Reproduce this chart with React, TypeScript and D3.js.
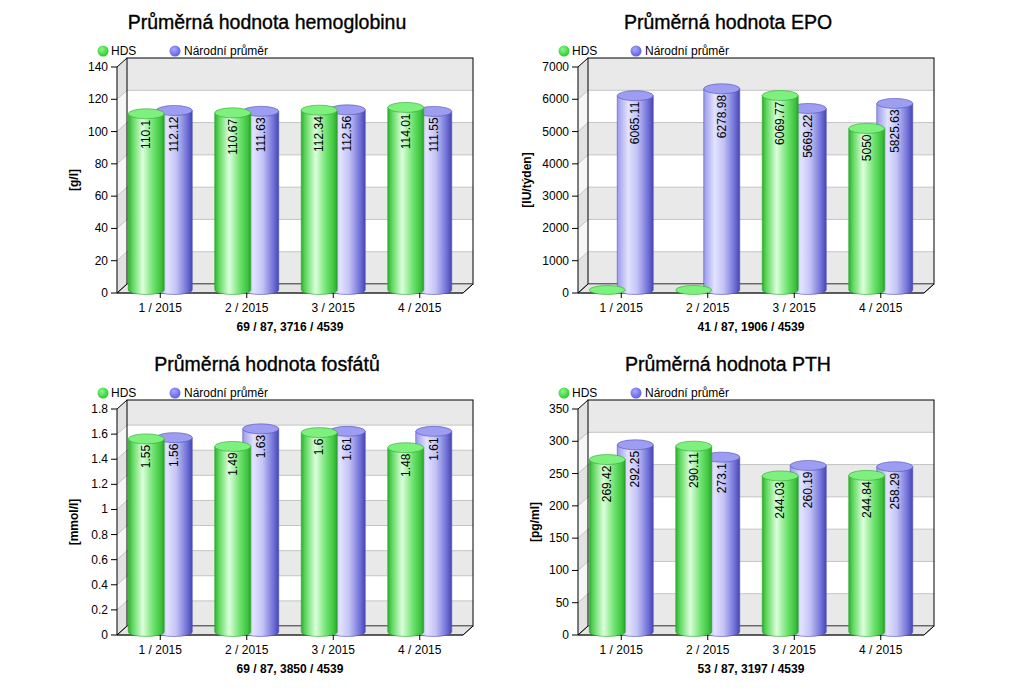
import React from "react";
import * as d3 from "d3";

const categories = ["1 / 2015", "2 / 2015", "3 / 2015", "4 / 2015"];
const seriesNames = ["HDS", "Národní průměr"];

const hbHds = [110.1, 110.67, 112.34, 114.01];
const hbNat = [112.12, 111.63, 112.56, 111.55];
const hbTicks = [0, 20, 40, 60, 80, 100, 120, 140];

const epoHds = [0, 0, 6069.77, 5050];
const epoNat = [6065.11, 6278.98, 5669.22, 5825.63];
const epoTicks = [0, 1000, 2000, 3000, 4000, 5000, 6000, 7000];

const phHds = [1.55, 1.49, 1.6, 1.48];
const phNat = [1.56, 1.63, 1.61, 1.61];
const phTicks = [0, 0.2, 0.4, 0.6, 0.8, 1, 1.2, 1.4, 1.6, 1.8];

const pthHds = [269.42, 290.11, 244.03, 244.84];
const pthNat = [292.25, 273.1, 260.19, 258.29];
const pthTicks = [0, 50, 100, 150, 200, 250, 300, 350];

const FONT = "'Liberation Sans', Arial, sans-serif";
const W = 346;
const H = 226;
const DX = 10;
const DY = -9;

type ChartProps = {
  left: number;
  top: number;
  title: string;
  unit: string;
  footer: string;
  hds: number[];
  nat: number[];
  ticks: number[];
  unitOffset: number;
};

function Cylinder({ cx, r, topY, botY, body, cap, stroke }: any) {
  const ry = 4.5;
  if (botY - topY < 1) {
    return <ellipse cx={cx} cy={botY} rx={r} ry={ry} fill={cap} stroke={stroke} strokeWidth={0.6} />;
  }
  const d = `M${cx - r},${topY} L${cx - r},${botY} A${r},${ry} 0 0 0 ${cx + r},${botY} L${cx + r},${topY} Z`;
  return (
    <g>
      <path d={d} fill={body} stroke={stroke} strokeWidth={0.6} />
      <ellipse cx={cx} cy={topY} rx={r} ry={ry + 0.5} fill={cap} stroke={stroke} strokeWidth={0.6} />
    </g>
  );
}

function Chart({ left, top, title, unit, footer, hds, nat, ticks, unitOffset }: ChartProps) {
  const L = left;
  const R = left + W;
  const T = top;
  const B = top + H;
  const max = ticks[ticks.length - 1];
  const y = d3.scaleLinear().domain([0, max]).range([B, T]);
  const x = d3.scaleBand().domain(categories).range([L, R]);
  const bw = x.bandwidth();
  const off = bw * 0.162;
  const r = 18;
  const bands = ticks.slice(0, -1).map((t, i) => ({ v0: t, v1: ticks[i + 1], gray: i % 2 === 0 }));
  const midX = (L + R) / 2;
  const lift = -1.5;
  const baseY = y(0) - 3;

  return (
    <g>
      <text x={midX - 23} y={T - 38} textAnchor="middle" fontFamily={FONT} fontSize={19.5} fill="#000" stroke="#000" strokeWidth={0.35}>
        {title}
      </text>
      {/* legend */}
      <circle cx={L - 14} cy={T - 16} r={5.5} fill="url(#legG)" />
      <text x={L - 6} y={T - 12} fontFamily={FONT} fontSize={12}>{seriesNames[0]}</text>
      <circle cx={L + 58} cy={T - 16} r={5.5} fill="url(#legB)" />
      <text x={L + 67} y={T - 12} fontFamily={FONT} fontSize={12}>{seriesNames[1]}</text>

      {/* back wall */}
      {bands.map((b, i) => (
        <rect key={"bw" + i} x={L + DX} y={y(b.v1) + DY} width={W} height={y(b.v0) - y(b.v1)} fill={b.gray ? "#e9e9e9" : "#ffffff"} />
      ))}
      {/* side wall */}
      {bands.map((b, i) => (
        <polygon
          key={"sw" + i}
          points={`${L},${y(b.v0)} ${L + DX},${y(b.v0) + DY} ${L + DX},${y(b.v1) + DY} ${L},${y(b.v1)}`}
          fill={b.gray ? "#e2e2e2" : "#f6f6f6"}
        />
      ))}
      {ticks.slice(1, -1).map((t, i) => (
        <g key={"gl" + i}>
          <line x1={L + DX} x2={R + DX} y1={y(t) + DY} y2={y(t) + DY} stroke="#c4c4c4" strokeWidth={1} />
          <line x1={L} x2={L + DX} y1={y(t)} y2={y(t) + DY} stroke="#c4c4c4" strokeWidth={1} />
        </g>
      ))}
      <rect x={L + DX} y={T + DY} width={W} height={H} fill="none" stroke="#000" strokeWidth={1} />
      {/* floor */}
      <polygon points={`${L},${B} ${R},${B} ${R + DX},${B + DY} ${L + DX},${B + DY}`} fill="#e4e4e4" stroke="#555" strokeWidth={0.8} />
      <line x1={L} x2={R} y1={B} y2={B} stroke="#000" strokeWidth={1} />
      <line x1={R} x2={R + DX} y1={B} y2={B + DY} stroke="#000" strokeWidth={1} />
      <line x1={L} x2={L + DX} y1={T} y2={T + DY} stroke="#000" strokeWidth={1} />
      <line x1={L} x2={L + DX} y1={B} y2={B + DY} stroke="#000" strokeWidth={1} />
      <line x1={L} x2={L} y1={T} y2={B} stroke="#000" strokeWidth={1} />

      {/* y ticks */}
      {ticks.map((t, i) => (
        <g key={"yt" + i}>
          <line x1={L - 6} x2={L} y1={y(t)} y2={y(t)} stroke="#000" />
          <text x={L - 9} y={y(t) + 4} textAnchor="end" fontFamily={FONT} fontSize={12}>{String(t)}</text>
        </g>
      ))}
      <text
        transform={`translate(${L - unitOffset},${(T + B) / 2}) rotate(-90)`}
        textAnchor="middle"
        fontFamily={FONT}
        fontSize={12}
        fontWeight="bold"
      >
        {unit}
      </text>

      {/* bars */}
      {categories.map((c, i) => {
        const cc = (x(c) as number) + bw / 2;
        return (
          <g key={"bar" + i}>
            <Cylinder cx={cc + off} r={r} topY={nat[i] > 0 ? y(nat[i]) + lift : baseY} botY={baseY} body="url(#bodyB)" cap="#9d9df2" stroke="#5050b8" />
            <Cylinder cx={cc - off} r={r} topY={hds[i] > 0 ? y(hds[i]) + lift : baseY} botY={baseY} body="url(#bodyG)" cap="#7ef07e" stroke="#2ea82e" />
          </g>
        );
      })}
      {categories.map((c, i) => {
        const cc = (x(c) as number) + bw / 2;
        return (
          <g key={"lab" + i} fontFamily={FONT} fontSize={12}>
            {hds[i] > 0 && (
              <text transform={`translate(${cc - off},${y(hds[i]) + lift + 6}) rotate(-90)`} textAnchor="end" dy="0.35em">
                {String(hds[i])}
              </text>
            )}
            {nat[i] > 0 && (
              <text transform={`translate(${cc + off},${y(nat[i]) + lift + 6}) rotate(-90)`} textAnchor="end" dy="0.35em">
                {String(nat[i])}
              </text>
            )}
          </g>
        );
      })}

      {/* x ticks */}
      {categories.map((c, i) => {
        const cc = (x(c) as number) + bw / 2;
        return (
          <g key={"xt" + i}>
            <line x1={cc} x2={cc} y1={B} y2={B + 5} stroke="#000" />
            <text x={cc} y={B + 19} textAnchor="middle" fontFamily={FONT} fontSize={12}>{c}</text>
          </g>
        );
      })}
      <text x={midX} y={B + 38} textAnchor="middle" fontFamily={FONT} fontSize={12} fontWeight="bold">
        {footer}
      </text>
    </g>
  );
}

export default function App() {
  return (
    <svg width={1024} height={692} style={{ position: "absolute", left: 0, top: 0, background: "#fff" }}>
      <defs>
        <linearGradient id="bodyG" x1="0" x2="1" y1="0" y2="0">
          <stop offset="0" stopColor="#2fae2f" />
          <stop offset="0.12" stopColor="#5fd85f" />
          <stop offset="0.4" stopColor="#dcffdc" />
          <stop offset="0.7" stopColor="#6ee26e" />
          <stop offset="0.92" stopColor="#3cc23c" />
          <stop offset="1" stopColor="#2a9e2a" />
        </linearGradient>
        <linearGradient id="bodyB" x1="0" x2="1" y1="0" y2="0">
          <stop offset="0" stopColor="#9a9aec" />
          <stop offset="0.3" stopColor="#e2e2ff" />
          <stop offset="0.55" stopColor="#c4c4f6" />
          <stop offset="0.85" stopColor="#7272d8" />
          <stop offset="1" stopColor="#4646b4" />
        </linearGradient>
        <radialGradient id="legG" cx="0.4" cy="0.35" r="0.7">
          <stop offset="0" stopColor="#8cf58c" />
          <stop offset="1" stopColor="#22cc22" />
        </radialGradient>
        <radialGradient id="legB" cx="0.4" cy="0.35" r="0.7">
          <stop offset="0" stopColor="#a8a8fa" />
          <stop offset="1" stopColor="#5a5ae6" />
        </radialGradient>
      </defs>
      <Chart left={117} top={67} title="Průměrná hodnota hemoglobinu" unit="[g/l]" footer="69 / 87, 3716 / 4539" hds={hbHds} nat={hbNat} ticks={hbTicks} unitOffset={39} />
      <Chart left={578} top={67} title="Průměrná hodnota EPO" unit="[IU/týden]" footer="41 / 87, 1906 / 4539" hds={epoHds} nat={epoNat} ticks={epoTicks} unitOffset={47} />
      <Chart left={117} top={409} title="Průměrná hodnota fosfátů" unit="[mmol/l]" footer="69 / 87, 3850 / 4539" hds={phHds} nat={phNat} ticks={phTicks} unitOffset={39} />
      <Chart left={578} top={409} title="Průměrná hodnota PTH" unit="[pg/ml]" footer="53 / 87, 3197 / 4539" hds={pthHds} nat={pthNat} ticks={pthTicks} unitOffset={39} />
    </svg>
  );
}
